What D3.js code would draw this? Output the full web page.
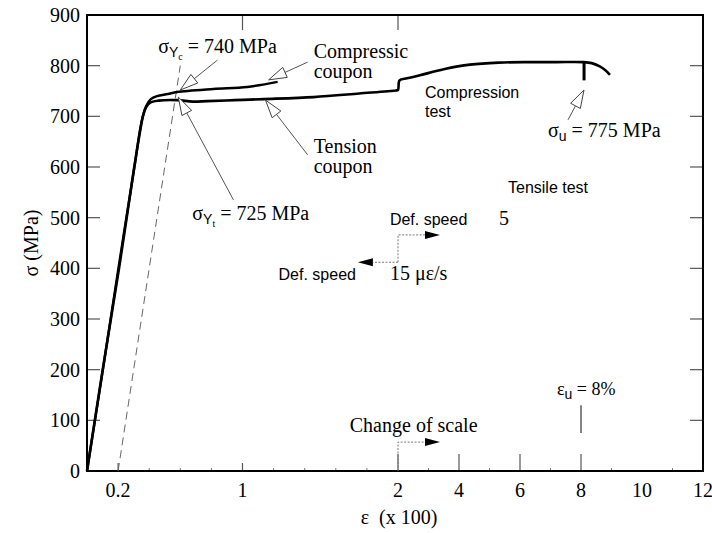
<!DOCTYPE html>
<html><head><meta charset="utf-8">
<script src="https://cdn.jsdelivr.net/npm/d3@7"></script>
<style>body{margin:0;background:#fff}</style>
</head><body>
<svg id="c" width="712" height="533"></svg>
<script>
// ---------- data ----------
const yTicks = [0,100,200,300,400,500,600,700,800,900];
const xTickLabels = [0.2,1,2,4,6,8,10,12];
const xBottomMajor = [2,4,6,8];
const xBottomSmall = [0.2,1];
const xBottomMinor = [0.4,0.6,0.8,1.2,1.4,1.6,1.8,3,5,7,9,11];
const xTopTicks = [1,2];

// tension coupon / main test curve (strain x100, MPa)
const tensionCurve = [[0,0],[0.1,198],[0.206,400],[0.3,592],[0.34,668],[0.361,702],[0.38,718],[0.406,727],[0.46,731],[0.58,732],[0.68,729],[0.774,730],[0.95,732],[1.135,734],[1.458,738],[1.75,745],[1.985,751],[2.0,752],[2.05,771],[2.3,775],[2.72,781],[3.5,793],[4.36,802],[5.3,806],[6.33,807],[7.2,807],[8.07,807],[8.35,805],[8.6,799],[8.8,791],[8.95,782]];
// compression coupon curve
const compressionCurve = [[0,0],[0.1,196],[0.2,396],[0.305,600],[0.35,688],[0.38,720],[0.41,734],[0.45,740],[0.52,744],[0.58,748],[0.813,754],[1.03,758],[1.226,768]];
const offsetLine = [[0.2,0],[0.6,800]];
const sigmaUMark = [[8.1,807],[8.1,771]];
const epsUMark = [[8,130],[8,75]];

// ---------- scales ----------
const W = 712, H = 533;
const x = d3.scaleLinear().domain([0,2,12]).range([87,398,703]);
const y = d3.scaleLinear().domain([0,900]).range([471,15]);
const svg = d3.select('#c');
const SERIF = '"Liberation Serif", "Times New Roman", serif';
const SANS = '"Liberation Sans", Arial, sans-serif';

// ---------- frame & ticks ----------
const g = svg.append('g');
const TL = 13;
g.selectAll('.yl').data(yTicks.slice(1,-1)).join('line')
  .attr('x1', x(0)).attr('x2', x(0)+TL).attr('y1', d=>y(d)).attr('y2', d=>y(d))
  .attr('stroke','#555').attr('stroke-width',1.2);
g.selectAll('.yr').data(yTicks.slice(1,-1)).join('line')
  .attr('x1', x(12)).attr('x2', x(12)-TL).attr('y1', d=>y(d)).attr('y2', d=>y(d))
  .attr('stroke','#555').attr('stroke-width',1.2);
g.selectAll('.xt').data(xTopTicks).join('line')
  .attr('x1', d=>x(d)).attr('x2', d=>x(d)).attr('y1', y(900)).attr('y2', y(900)+15)
  .attr('stroke','#555').attr('stroke-width',1.2);
g.selectAll('.xb').data(xBottomMajor).join('line')
  .attr('x1', d=>x(d)).attr('x2', d=>x(d)).attr('y1', y(0)).attr('y2', y(0)-17)
  .attr('stroke','#555').attr('stroke-width',1.2);
g.selectAll('.xbs').data(xBottomSmall).join('line')
  .attr('x1', d=>x(d)).attr('x2', d=>x(d)).attr('y1', y(0)).attr('y2', y(0)-8)
  .attr('stroke','#555').attr('stroke-width',1.2);
g.selectAll('.xbm').data(xBottomMinor).join('line')
  .attr('x1', d=>x(d)).attr('x2', d=>x(d)).attr('y1', y(0)).attr('y2', y(0)-3)
  .attr('stroke','#777').attr('stroke-width',1);

g.append('rect').attr('x', x(0)).attr('y', y(900)).attr('width', x(12)-x(0)).attr('height', y(0)-y(900))
  .attr('fill','none').attr('stroke','#000').attr('stroke-width',2);

// tick labels
g.selectAll('.ytl').data(yTicks).join('text')
  .attr('x', x(0)-7).attr('y', d=>y(d)).attr('dy','0.35em').attr('text-anchor','end')
  .attr('font-family',SERIF).attr('font-size',20).text(d=>d);
g.selectAll('.xtl').data(xTickLabels).join('text')
  .attr('x', d=>x(d)).attr('y', y(0)+26).attr('text-anchor','middle')
  .attr('font-family',SERIF).attr('font-size',20).text(d=>d);

// axis titles
svg.append('text').attr('transform', `translate(38,${(y(400)+y(500))/2}) rotate(-90)`)
  .attr('text-anchor','middle').attr('font-family',SERIF).attr('font-size',20).text('σ (MPa)');
svg.append('text').attr('x', x(1.76)).attr('y', 524).attr('font-family',SERIF).attr('font-size',20)
  .attr('xml:space','preserve').text('ε  (x 100)');

// ---------- curves ----------
const line = d3.line().x(d=>x(d[0])).y(d=>y(d[1])).curve(d3.curveCatmullRom.alpha(0.5));
svg.append('path').datum(offsetLine).attr('d', d3.line().x(d=>x(d[0])).y(d=>y(d[1])))
  .attr('fill','none').attr('stroke','#666').attr('stroke-width',1).attr('stroke-dasharray','8,5');
svg.append('path').datum(compressionCurve).attr('d', line)
  .attr('fill','none').attr('stroke','#000').attr('stroke-width',2.4).attr('stroke-linejoin','round');
svg.append('path').datum(tensionCurve).attr('d', line)
  .attr('fill','none').attr('stroke','#000').attr('stroke-width',2.6).attr('stroke-linejoin','round');
svg.append('path').datum(sigmaUMark).attr('d', d3.line().x(d=>x(d[0])).y(d=>y(d[1])))
  .attr('stroke','#000').attr('stroke-width',3);
svg.append('path').datum(epsUMark).attr('d', d3.line().x(d=>x(d[0])).y(d=>y(d[1])))
  .attr('stroke','#333').attr('stroke-width',1.2);

// ---------- annotation helpers ----------
function hollowArrow(p1, p2){
  const x1=x(p1[0]), y1=y(p1[1]), x2=x(p2[0]), y2=y(p2[1]);
  const dx=x2-x1, dy=y2-y1, L=Math.hypot(dx,dy), ux=dx/L, uy=dy/L;
  const hl=18, hw=5.5;
  const bx=x2-ux*hl, by=y2-uy*hl;
  svg.append('line').attr('x1',x1).attr('y1',y1).attr('x2',bx).attr('y2',by)
    .attr('stroke','#555').attr('stroke-width',1);
  svg.append('path').attr('d',`M${x2},${y2}L${bx-uy*hw},${by+ux*hw}L${bx+uy*hw},${by-ux*hw}Z`)
    .attr('fill','#fff').attr('stroke','#444').attr('stroke-width',1);
}
function filledArrow(pts){
  const P = pts.map(p=>[x(p[0]),y(p[1])]);
  const n=P.length, [x2,y2]=P[n-1], [x1,y1]=P[n-2];
  const dx=x2-x1, dy=y2-y1, L=Math.hypot(dx,dy), ux=dx/L, uy=dy/L;
  const hl=15, hw=4;
  const bx=x2-ux*hl, by=y2-uy*hl;
  const Q = P.slice(0,-1).concat([[bx,by]]);
  svg.append('path').attr('d','M'+Q.map(q=>q.join(',')).join('L'))
    .attr('fill','none').attr('stroke','#777').attr('stroke-width',1).attr('stroke-dasharray','2,1.5');
  svg.append('path').attr('d',`M${x2},${y2}L${bx-uy*hw},${by+ux*hw}L${bx+uy*hw},${by-ux*hw}Z`)
    .attr('fill','#000');
}
function sigText(p, base, subs, rest, size){
  const t = svg.append('text').attr('x',x(p[0])).attr('y',y(p[1]))
    .attr('font-family',SERIF).attr('font-size',size||20).attr('xml:space','preserve');
  t.append('tspan').text(base);
  let shift=0;
  subs.forEach((s,i)=>{
    const fs = i===0 ? 14 : 10, d = i===0 ? 4 : 3;
    t.append('tspan').attr('font-size',fs).attr('font-family',i===0?SANS:SERIF).attr('dy',d).text(s);
    shift+=d;
  });
  t.append('tspan').attr('dy',-shift).text(rest);
}
function plainText(p, lines, font, size, lh){
  const t = svg.append('text').attr('x',x(p[0])).attr('y',y(p[1]))
    .attr('font-family',font).attr('font-size',size);
  lines.forEach((s,i)=>t.append('tspan').attr('x',x(p[0])).attr('dy', i===0?0:lh).text(s));
}

// ---------- annotations ----------
sigText([0.458,825], 'σ', ['Y','c'], ' = 740 MPa');
hollowArrow([0.839,811],[0.6,752]);

plainText([1.458,815], ['Compressic','coupon'], SERIF, 20, 20);
hollowArrow([1.419,807],[1.168,772]);

plainText([1.458,628], ['Tension','coupon'], SERIF, 20, 20);
hollowArrow([1.419,624],[1.148,732]);

sigText([0.677,495], 'σ', ['Y','t'], ' = 725 MPa');
hollowArrow([0.942,535],[0.587,738]);

plainText([2.885,736], ['Compression','test'], SANS, 16, 19);

sigText([6.918,659], 'σ', ['u'], ' = 775 MPa');
hollowArrow([7.574,693],[8.098,752]);

plainText([5.607,549], ['Tensile test'], SANS, 16, 0);
plainText([1.948,486], ['Def. speed'], SANS, 16, 0);
plainText([5.311,486], ['5'], SERIF, 20, 0);
filledArrow([[2,412],[2,466],[3.377,466]]);
filledArrow([[2,412],[1.742,412]]);
plainText([1.232,377], ['Def. speed'], SANS, 16, 0);
plainText([1.948,377], ['15 με/s'], SERIF, 20, 0);

plainText([1.69,77], ['Change of scale'], SERIF, 20, 0);
filledArrow([[2,0],[2,57],[3.377,57]]);

sigText([7.213,150], 'ε', ['u'], ' = 8%', 18);
</script>
</body></html>
